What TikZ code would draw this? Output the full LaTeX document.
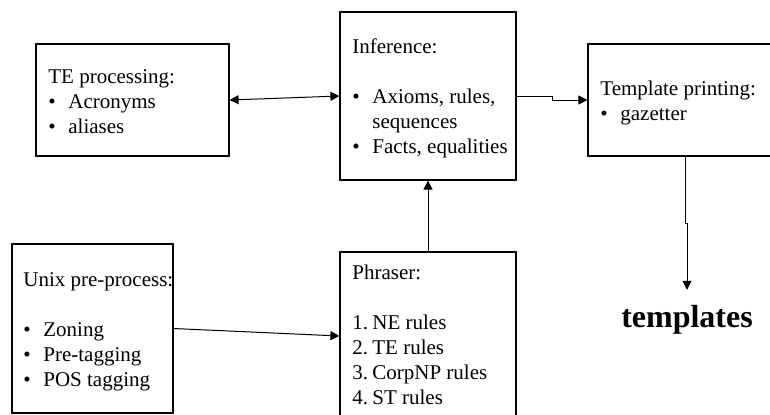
\documentclass[tikz,border=0pt]{standalone}
\usepackage{fontspec}
\setmainfont{Liberation Serif}
\usetikzlibrary{arrows.meta,fit}

\tikzset{
    box/.style={draw, line width=0.6pt, inner sep=0pt},
    txt/.style={anchor=base west, align=left, inner sep=0pt,
        font=\fontsize{10.5}{12.5}\selectfont},
    conn/.style={line width=0.5pt, -{Triangle[length=4.5pt,width=4.5pt]}}
}
\newcommand{\pbul}{\makebox[10pt][l]{\textbullet}}
\newcommand{\pnum}[1]{\makebox[10pt][l]{#1}}

\begin{document}
\begin{tikzpicture}[x=0.5pt,y=-0.5pt]
        \clip (0,0) rectangle (770,414);
        \foreach \name/\xa/\ya/\xb/\yb in {
        te/36/44/229/156,
        inf/340/12/516/180,
        tpl/588/44/782/156,
        unix/12/244/173/413,
        phr/340/252/516/420}{
            \node[box, fit={(\xa,\ya) (\xb,\yb)}] (\name) {};
        }
        % text blocks, placed at the baseline of their last line
        \node[txt] (tetext) at (48,133) {TE processing:\\ \pbul Acronyms\\ \pbul aliases};
        \node[txt] (inftext) at (352,153) {Inference:\\[12.5pt] \pbul Axioms, rules,\\ \hspace*{10pt}sequences\\ \pbul Facts, equalities};
        \node[txt] (tpltext) at (600,120) {Template printing:\\ \pbul gazetter};
        \node[txt] (unixtext) at (23,386) {Unix pre-process:\\[12.5pt] \pbul Zoning\\ \pbul Pre-tagging\\ \pbul POS tagging};
        \node[txt] (phrtext) at (352,404) {Phraser:\\[12.5pt] \pnum{1.}NE rules\\ \pnum{2.}TE rules\\ \pnum{3.}CorpNP rules\\ \pnum{4.}ST rules};
        \node[anchor=base, inner sep=0pt, outer sep=7.5pt, font=\fontsize{16}{19}\selectfont\bfseries] (out) at (687,327) {templates};
        % connectors
        \draw[conn, {Triangle[length=4.5pt,width=4.5pt]}-{Triangle[length=4.5pt,width=4.5pt]}] (te.east) -- (inf.west);
        \draw[conn] (inf.east) -- ++(36,0) |- (tpl.west);
        \draw[conn] (phr.north) -- (inf.south);
        \draw[conn] (unix.east) -- (phr.west);
        \draw[conn] (tpl.south) -- ++(0,67) -| (out.north);
    \end{tikzpicture}
\end{document}
